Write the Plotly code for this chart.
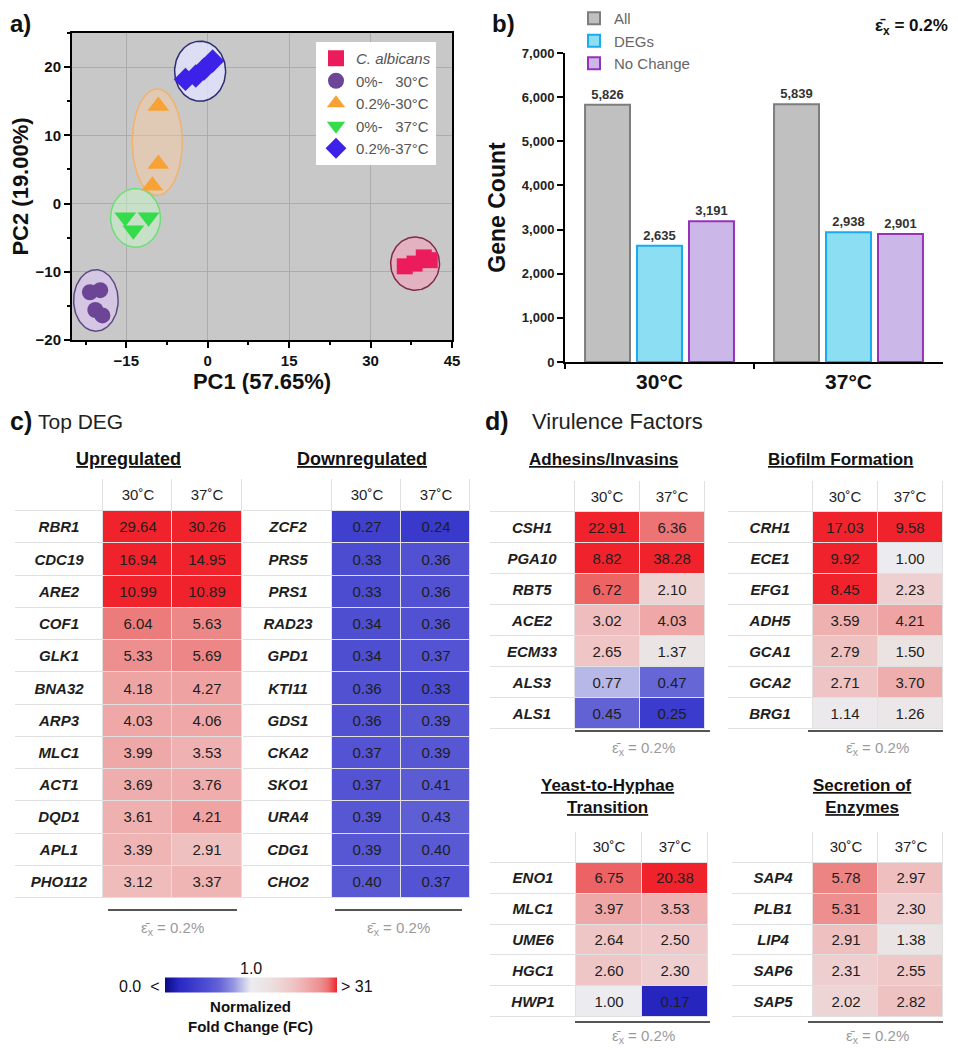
import numpy as np
import plotly.graph_objects as go

# the page body adds an 8px margin, so the figure is drawn 8px smaller and positions are shifted
OFF = 8
W, H = 958 - OFF, 1050 - OFF
FONT = "Arial, 'Liberation Sans', sans-serif"

# ---------------- Panel a: PCA ----------------
pca_names = ["<i>C. albicans</i>", "0%-\u00a0\u00a0\u00a030°C", "0.2%-30°C", "0%-\u00a0\u00a0\u00a037°C", "0.2%-37°C"]
pc1_calb = [36.3, 38.1, 39.8, 40.9]
pc2_calb = [-9.2, -8.8, -7.9, -8.3]
pc1_0_30 = [-21.7, -19.8, -20.7, -19.4]
pc2_0_30 = [-13.0, -12.7, -15.6, -16.4]
pc1_02_30 = [-9.1, -9.1, -10.2]
pc2_02_30 = [14.3, 5.8, 2.6]
pc1_0_37 = [-15.2, -10.9, -13.7]
pc2_0_37 = [-2.0, -2.0, -3.9]
pc1_02_37 = [-4.1, -2.2, -0.7, 0.9]
pc2_02_37 = [18.2, 18.7, 19.7, 20.9]
ell_cx = [38.2, -20.6, -9.3, -13.3, -1.4]
ell_cy = [-8.8, -14.2, 9.0, -2.1, 19.4]
ell_rx = [4.5, 4.1, 4.6, 4.6, 4.7]
ell_ry = [3.9, 4.5, 7.8, 4.3, 4.4]

# ---------------- Panel b: gene counts ----------------
conditions = ["30°C", "37°C"]
count_all = [5826, 5839]
count_degs = [2635, 2938]
count_nochange = [3191, 2901]

# ---------------- Panel c: top DEG ----------------
up_genes = ["RBR1", "CDC19", "ARE2", "COF1", "GLK1", "BNA32", "ARP3", "MLC1", "ACT1", "DQD1", "APL1", "PHO112"]
up_30 = [29.64, 16.94, 10.99, 6.04, 5.33, 4.18, 4.03, 3.99, 3.69, 3.61, 3.39, 3.12]
up_37 = [30.26, 14.95, 10.89, 5.63, 5.69, 4.27, 4.06, 3.53, 3.76, 4.21, 2.91, 3.37]
down_genes = ["ZCF2", "PRS5", "PRS1", "RAD23", "GPD1", "KTI11", "GDS1", "CKA2", "SKO1", "URA4", "CDG1", "CHO2"]
down_30 = [0.27, 0.33, 0.33, 0.34, 0.34, 0.36, 0.36, 0.37, 0.37, 0.39, 0.39, 0.40]
down_37 = [0.24, 0.36, 0.36, 0.36, 0.37, 0.33, 0.39, 0.39, 0.41, 0.43, 0.40, 0.37]

# ---------------- Panel d: virulence factors ----------------
adh_genes = ["CSH1", "PGA10", "RBT5", "ACE2", "ECM33", "ALS3", "ALS1"]
adh_30 = [22.91, 8.82, 6.72, 3.02, 2.65, 0.77, 0.45]
adh_37 = [6.36, 38.28, 2.10, 4.03, 1.37, 0.47, 0.25]
bio_genes = ["CRH1", "ECE1", "EFG1", "ADH5", "GCA1", "GCA2", "BRG1"]
bio_30 = [17.03, 9.92, 8.45, 3.59, 2.79, 2.71, 1.14]
bio_37 = [9.58, 1.00, 2.23, 4.21, 1.50, 3.70, 1.26]
yh_genes = ["ENO1", "MLC1", "UME6", "HGC1", "HWP1"]
yh_30 = [6.75, 3.97, 2.64, 2.60, 1.00]
yh_37 = [20.38, 3.53, 2.50, 2.30, 0.17]
sec_genes = ["SAP4", "PLB1", "LIP4", "SAP6", "SAP5"]
sec_30 = [5.78, 5.31, 2.91, 2.31, 2.02]
sec_37 = [2.97, 2.30, 1.38, 2.55, 2.82]
temp_headers = ["30˚C", "37˚C"]


def px_x(p):
    return (p - OFF) / W


def px_y(p):
    return 1 - (p - OFF) / H


def xd(p0, p1):
    return [px_x(p0), px_x(p1)]


def yd(top, bottom):
    return [px_y(bottom), px_y(top)]


fig = go.Figure()

# ---- panel a traces ----
pca_x = [pc1_calb, pc1_0_30, pc1_02_30, pc1_0_37, pc1_02_37]
pca_y = [pc2_calb, pc2_0_30, pc2_02_30, pc2_0_37, pc2_02_37]
pca_colors = ["#ec1c5c", "#6c4596", "#f8a236", "#34dc4c", "#3c22e8"]
pca_symbols = ["square", "circle", "triangle-up", "triangle-down", "diamond"]
pca_sizes = [16, 16, 19, 19, 18]
ell_fill = ["rgba(248,160,188,0.55)", "rgba(218,198,238,0.75)", "rgba(252,205,160,0.45)",
            "rgba(200,246,200,0.5)", "rgba(226,226,255,0.8)"]
ell_line = ["rgb(130,40,75)", "rgb(95,75,130)", "rgb(242,178,105)", "rgb(110,222,120)", "rgb(45,45,115)"]
t = np.linspace(0, 2 * np.pi, 120)
for i in range(5):
    fig.add_trace(go.Scatter(
        x=ell_cx[i] + ell_rx[i] * np.cos(t), y=ell_cy[i] + ell_ry[i] * np.sin(t),
        mode="lines", fill="toself", fillcolor=ell_fill[i],
        line=dict(color=ell_line[i], width=1.5), showlegend=False, hoverinfo="skip",
        xaxis="x", yaxis="y"))
for i in range(5):
    fig.add_trace(go.Scatter(
        x=pca_x[i], y=pca_y[i], mode="markers", name=pca_names[i],
        marker=dict(symbol=pca_symbols[i], size=pca_sizes[i], color=pca_colors[i], line=dict(width=0)),
        xaxis="x", yaxis="y", legend="legend"))

# ---- panel b traces ----
bar_specs = [("All", count_all, "rgb(192,192,192)", "rgb(125,125,125)"),
             ("DEGs", count_degs, "rgb(140,222,242)", "rgb(25,170,240)"),
             ("No Change", count_nochange, "rgb(204,184,232)", "rgb(150,50,185)")]
for name, vals, fc, lc in bar_specs:
    fig.add_trace(go.Bar(
        x=conditions, y=vals, name=name, marker=dict(color=fc, line=dict(color=lc, width=2)),
        text=[f"{v:,}" for v in vals], textposition="outside", cliponaxis=False,
        textfont=dict(size=13, color="#333", family=FONT, weight="bold"),
        xaxis="x2", yaxis="y2", legend="legend2"))

# ---- tables ----
def add_table(idx, genes, v30, v37, gene_w):
    xedges = [0, gene_w, gene_w + 1, gene_w + 2]
    rows = list(range(len(genes) + 1))
    lab_z = [[0, 0, 0]] + [[0, None, None] for _ in genes]
    lab_t = [[""] + temp_headers] + [[f"<b><i>{g}</i></b>", "", ""] for g in genes]
    dat_z = [[None, None, None]] + [[None, float(np.log2(a)), float(np.log2(b))] for a, b in zip(v30, v37)]
    dat_t = [["", "", ""]] + [["", f"{a:.2f}", f"{b:.2f}"] for a, b in zip(v30, v37)]
    fig.add_trace(go.Heatmap(
        x=xedges, y=rows, z=lab_z, text=lab_t, texttemplate="%{text}",
        textfont=dict(size=15, color="#1e1e1e", family=FONT),
        colorscale=[[0, "white"], [1, "white"]], zmin=0, zmax=1, showscale=False,
        xgap=1, ygap=1, hoverinfo="skip", xaxis=f"x{idx}", yaxis=f"y{idx}"))
    fig.add_trace(go.Heatmap(
        x=xedges, y=rows, z=dat_z, text=dat_t, texttemplate="%{text}",
        textfont=dict(size=15, color="#1e1e1e", family=FONT),
        coloraxis="coloraxis", xgap=1, ygap=1, hoverinfo="skip",
        xaxis=f"x{idx}", yaxis=f"y{idx}"))
    return len(genes) + 1, gene_w + 2


tables = [
    (3, up_genes, up_30, up_37, 1.26, (15, 242), (479, 898)),
    (4, down_genes, down_30, down_37, 1.29, (243, 470), (479, 898)),
    (5, adh_genes, adh_30, adh_37, 1.3, (490, 705), (481, 729)),
    (6, bio_genes, bio_30, bio_37, 1.3, (728, 943), (481, 729)),
    (7, yh_genes, yh_30, yh_37, 1.3, (490, 708), (832, 1017)),
    (8, sec_genes, sec_30, sec_37, 1.25, (732, 943), (832, 1017)),
]

layout_axes = {}
for idx, genes, a30, a37, gw, xp, yp in tables:
    nrows, ncols = add_table(idx, genes, a30, a37, gw)
    layout_axes[f"xaxis{idx}"] = dict(domain=xd(*xp), range=[0, ncols], visible=False,
                                      anchor=f"y{idx}", fixedrange=True)
    layout_axes[f"yaxis{idx}"] = dict(domain=yd(*yp), range=[nrows - 0.5, -0.5], visible=False,
                                      anchor=f"x{idx}", fixedrange=True)

colorscale = [
    [0.00, "rgb(10,10,130)"], [0.08, "rgb(40,40,195)"], [0.17, "rgb(60,60,205)"],
    [0.25, "rgb(80,80,210)"], [0.32, "rgb(102,102,214)"], [0.40, "rgb(150,150,226)"],
    [0.44, "rgb(186,186,232)"], [0.50, "rgb(236,236,240)"], [0.60, "rgb(235,226,226)"],
    [0.667, "rgb(238,214,214)"], [0.764, "rgb(239,190,190)"], [0.833, "rgb(239,168,168)"],
    [0.91, "rgb(237,140,140)"], [0.95, "rgb(236,112,112)"], [1.00, "rgb(240,35,45)"],
]

tick_bold = dict(size=15, color="#111", family=FONT, weight="bold")

layout = dict(
    width=W, height=H, margin=dict(l=0, r=0, t=0, b=0, autoexpand=False),
    paper_bgcolor="white", plot_bgcolor="rgb(224,224,224)",
    font=dict(family=FONT, color="#111"),
    barmode="group", bargap=0.175, bargroupgap=0.135,
    xaxis=dict(domain=xd(72, 452), range=[-25, 45], tickvals=[-15, 0, 15, 30, 45],
               showgrid=True, gridcolor="rgb(172,172,172)", gridwidth=1, zeroline=False,
               showline=True, linecolor="black", linewidth=2, mirror=True,
               ticks="outside", ticklen=6, tickwidth=2, tickcolor="black",
               minor=dict(dtick=7.5, tick0=0, ticks="outside", ticklen=3, tickcolor="black", showgrid=False),
               tickfont=tick_bold, anchor="y",
               title=dict(text="PC1 (57.65%)", font=dict(size=22, family=FONT, weight="bold", color="#111"),
                          standoff=6)),
    yaxis=dict(domain=yd(33, 340), range=[-20, 25], tickvals=[-20, -10, 0, 10, 20],
               showgrid=True, gridcolor="rgb(172,172,172)", gridwidth=1, zeroline=False,
               showline=True, linecolor="black", linewidth=2, mirror=True,
               ticks="outside", ticklen=6, tickwidth=2, tickcolor="black",
               minor=dict(dtick=5, tick0=0, ticks="outside", ticklen=3, tickcolor="black", showgrid=False),
               tickfont=tick_bold, anchor="x",
               title=dict(text="PC2 (19.00%)", font=dict(size=22, family=FONT, weight="bold", color="#111"),
                          standoff=4)),
    xaxis2=dict(domain=xd(565, 943), type="category", showline=True, linecolor="black", linewidth=2,
                ticks="outside", tickson="boundaries", ticklen=5, tickwidth=2, tickcolor="black",
                tickfont=dict(size=21, family=FONT, weight="bold", color="#111"), anchor="y2",
                showgrid=False, zeroline=False),
    yaxis2=dict(domain=yd(53, 362), range=[0, 7000], tickvals=list(range(0, 7001, 1000)),
                tickformat=",", showline=True, linecolor="black", linewidth=2,
                ticks="outside", ticklen=6, tickwidth=2, tickcolor="black",
                tickfont=dict(size=13, family=FONT, weight="bold", color="#222"), anchor="x2",
                showgrid=False, zeroline=False,
                title=dict(text="Gene Count", font=dict(size=23, family=FONT, weight="bold", color="#111"),
                           standoff=10)),
    legend=dict(x=px_x(316), y=px_y(42), xanchor="left", yanchor="top", bgcolor="white",
                font=dict(size=15, color="#555", family=FONT), tracegroupgap=0, itemwidth=30),
    legend2=dict(x=px_x(574), y=1.0 + 6 / H, xanchor="left", yanchor="top", bgcolor="rgba(0,0,0,0)",
                 font=dict(size=15, color="#666", family=FONT), tracegroupgap=0, itemwidth=30),
    coloraxis=dict(colorscale=colorscale, cmin=-3, cmax=3,
                   colorbar=dict(orientation="h", x=px_x(251), xanchor="center", y=px_y(984.5),
                                 yanchor="middle", len=172, lenmode="pixels", thickness=15,
                                 thicknessmode="pixels", showticklabels=False, ticks="",
                                 outlinewidth=0, xpad=0, ypad=0)),
)
layout.update(layout_axes)
fig.update_layout(**layout)

# backgrounds
fig.add_shape(type="rect", xref="x domain", yref="y domain", x0=0, x1=1, y0=0, y1=1,
              fillcolor="rgb(200,200,200)", line=dict(width=0), layer="below")
fig.add_shape(type="rect", xref="x2 domain", yref="y2 domain", x0=0, x1=1, y0=0, y1=1,
              fillcolor="white", line=dict(width=0), layer="below")

# lines under tables
for x0, x1, yy in [(108, 237, 910), (335, 462, 910), (575, 710, 731), (808, 943, 731),
                   (575, 710, 1022), (808, 943, 1022)]:
    fig.add_shape(type="line", xref="paper", yref="paper", x0=px_x(x0), x1=px_x(x1),
                  y0=px_y(yy), y1=px_y(yy), line=dict(color="#555", width=2))


def ann(text, x, y, size, xanchor="center", yanchor="middle", color="#111"):
    fig.add_annotation(text=text, x=px_x(x), y=px_y(y), xref="paper", yref="paper",
                       xanchor=xanchor, yanchor=yanchor, showarrow=False,
                       font=dict(size=size, color=color, family=FONT))


eps = "\u03b5\u0304<sub>x</sub> = 0.2%"
ann("<b>a)</b>", 8, 8, 24, xanchor="left", yanchor="top")
ann("<b>b)</b>", 490, 8, 24, xanchor="left", yanchor="top")
ann("<b>" + eps + "</b>", 950, 27, 17, xanchor="right")
ann("<b>c)</b>", 8, 421, 25, xanchor="left")
ann("Top DEG", 36, 421, 21, xanchor="left", color="#222")
ann("<b><u>Upregulated</u></b>", 128, 459, 18)
ann("<b><u>Downregulated</u></b>", 362, 459, 18)
ann("<b>d)</b>", 483, 421, 25, xanchor="left")
ann("Virulence Factors", 530, 421, 22, xanchor="left", color="#222")
ann("<b><u>Adhesins/Invasins</u></b>", 603, 459, 17)
ann("<b><u>Biofilm Formation</u></b>", 840, 459, 17)
ann("<b><u>Yeast-to-Hyphae</u></b><br><b><u>Transition</u></b>", 607, 796, 17)
ann("<b><u>Secretion of</u></b><br><b><u>Enzymes</u></b>", 862, 796, 17)
for x, y in [(172, 928), (398, 928), (643, 748), (877, 748), (643, 1036), (877, 1036)]:
    ann(eps, x, y, 15, color="#9a9a9a")
ann("1.0", 251, 968, 16)
ann("0.0\u00a0\u00a0<", 161, 986, 16, xanchor="right")
ann(">\u00a031", 339, 986, 16, xanchor="left")
ann("<b>Normalized</b><br><b>Fold Change (FC)</b>", 251, 1016, 15)

fig.write_html("out.html")
